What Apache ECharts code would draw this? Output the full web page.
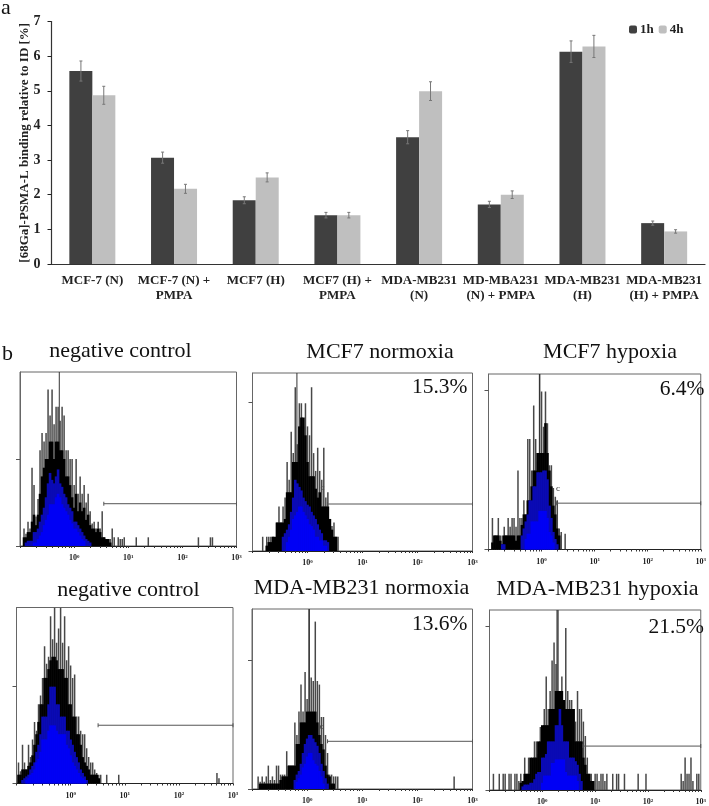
<!DOCTYPE html>
<html>
<head>
<meta charset="utf-8">
<style>html,body{margin:0;padding:0;background:#fff}#main{width:709px;height:806px}</style>
<script src="https://cdn.jsdelivr.net/npm/echarts@6/dist/echarts.min.js"></script>
</head>
<body>
<div id="main"></div>
<script>
// panel a: binding bars
var categories = ['MCF-7 (N)', 'MCF-7 (N) +\nPMPA', 'MCF7 (H)', 'MCF7 (H) +\nPMPA', 'MDA-MB231\n(N)', 'MD-MBA231\n(N) + PMPA', 'MDA-MB231\n(H)', 'MDA-MB231\n(H) + PMPA'];
var values1h = [5.57, 3.07, 1.84, 1.41, 3.66, 1.72, 6.13, 1.18];
var values4h = [4.87, 2.17, 2.50, 1.41, 4.99, 2.00, 6.28, 0.94];
var err1h = [0.29, 0.16, 0.10, 0.08, 0.19, 0.09, 0.31, 0.06];
var err4h = [0.26, 0.13, 0.13, 0.08, 0.27, 0.11, 0.32, 0.05];

// panel b: histogram heights per bin, in % of frame height (27 bins per decade, bin 0 = 10^-1)
var neg1Spike = [0,0,10,7,14,10,45,35,17,27,55,65,60,65,90,75,90,70,80,80,72,80,75,55,55,50,50,35,50,30,40,30,35,25,30,20,13,14,10,14,10,20,5,4,4,4,10,5,0,5,4,4,5];
var neg1Body = [0,0,5,5,8,8,14,18,12,18,30,40,45,50,50,60,60,50,60,60,55,55,50,40,40,35,28,22,30,20,25,20,22,15,18,12,10,10,8,10,8,5,5,4,4,2];
var neg1Blue = [0,0,0,2,3,3,3,8,8,10,14,18,22,28,36,42,38,36,40,44,36,34,30,28,24,22,20,14,14,12,10,8,6,4,3,2];
var neg1Core = [0,0,0,0,0,0,0,2,2,4,6,8,12,15,18,24,24,24,28,30,28,24,22,20,18,15,13,10,10,8,6,4,3];
var neg1Tail = [[58,5],[64,5],[89,5],[95,5],[96,5]];

var mcfNSpike = [0,0,0,0,0,8,0,8,8,8,8,6,16,25,16,25,30,50,40,67,55,92,60,83,83,70,83,70,65,92,55,45,58,45,40,58,30,33,15,14,16,8,8];
var mcfNBody = [0,0,0,0,0,0,0,3,5,5,8,8,16,16,16,16,18,33,33,33,50,50,50,70,75,75,65,50,42,42,42,35,30,33,25,25,25,25,18,12,8,8];
var mcfNBlue = [0,0,0,0,0,0,0,0,0,0,0,0,0,0,0,8,10,12,15,22,30,40,38,36,34,30,28,26,25,22,20,18,15,12,10,6,6,5];
var mcfNCore = [0,0,0,0,0,0,0,0,0,0,0,0,0,0,0,0,0,5,8,12,18,20,22,25,25,22,20,18,15,14,12,8,8,6,6,3,3];
var mcfNTail = [];

var mcfHSpike = [0,0,18,8,8,18,8,8,13,8,18,13,18,18,13,45,18,18,28,20,63,63,45,82,63,50,100,90,70,90,72,48,48,35,30,28,12,10,0,9];
var mcfHBody = [0,0,4,8,8,8,5,3,8,8,8,8,8,8,5,8,8,14,20,20,28,28,36,45,45,55,55,55,55,72,55,45,36,25,20,12,8];
var mcfHBlue = [0,0,0,0,0,0,0,3,3,0,0,0,0,0,0,0,0,8,12,16,20,28,28,36,36,44,44,44,45,45,40,25,18,10,6,3];
var mcfHCore = [0,0,0,0,0,0,0,0,0,0,0,0,0,0,0,0,0,0,0,6,9,9,16,16,16,16,22,22,22,22,18,10,8,4];
var mcfHTail = [];

var neg2Spike = [0,12,7,22,12,8,22,15,25,35,30,45,50,60,78,68,72,95,82,100,80,88,100,80,95,70,78,67,60,62,38,38,30,28,28,20,15,12,12,8,6,5,5];
var neg2Body = [0,5,5,8,8,8,10,12,16,22,28,35,45,45,60,60,65,70,72,72,70,65,65,65,60,60,45,45,38,38,28,28,22,15,12,10,8,5,5,5,5,3];
var neg2Blue = [0,0,0,2,3,4,5,8,10,12,18,22,28,38,38,38,45,55,55,55,45,45,38,38,38,30,30,25,22,18,15,12,8,6,4,2];
var neg2Core = [0,0,0,0,0,2,3,5,6,8,12,14,18,25,25,25,30,33,33,33,30,28,28,28,28,22,20,16,12,10,8,6,4,3,2];
var neg2Tail = [[45,5],[51,5],[100,6],[101,3]];

var mdaNSpike = [0,0,0,7,4,7,4,7,13,5,7,5,13,13,8,8,8,21,13,13,13,37,30,43,58,43,65,50,100,62,60,93,60,58,40,40,30,20,8,8,7,7,7];
var mdaNBody = [0,0,0,0,3,3,3,3,3,3,3,3,3,3,5,7,7,7,13,13,13,13,25,25,37,37,37,43,43,43,43,43,37,30,25,22,13,8,7,3,3];
var mdaNBlue = [0,0,0,0,0,0,0,0,0,0,0,0,0,0,0,0,0,0,0,0,0,5,8,10,14,20,25,28,30,30,28,26,24,20,14,10,6,3];
var mdaNCore = [0,0,0,0,0,0,0,0,0,0,0,0,0,0,0,0,0,0,0,0,0,0,4,6,8,12,14,18,20,20,16,14,13,10,7,3];
var mdaNTail = [[99,7]];

var mdaHSpike = [0,0,9,0,0,9,0,9,9,0,9,9,0,9,9,5,9,5,18,9,18,9,14,27,27,20,35,35,45,63,45,55,72,82,70,100,50,63,45,90,55,50,50,45,38,55,45,45,38,30,18,9,9,5,9,9,5,9,9,5,9];
var mdaHBody = [0,0,0,0,0,0,0,0,0,0,0,0,0,0,0,0,4,5,9,9,9,18,18,18,18,27,27,36,36,36,36,45,45,45,55,55,55,55,50,45,45,45,45,45,27,27,27,27,18,14,9,9,5,5];
var mdaHBlue = [0,0,0,0,0,0,0,0,0,0,0,0,0,0,0,0,0,2,3,3,3,4,4,6,9,10,10,18,18,20,27,27,27,27,36,36,45,36,27,27,27,18,18,18,16,14,9,5];
var mdaHCore = [0,0,0,0,0,0,0,0,0,0,0,0,0,0,0,0,0,0,0,0,0,0,0,0,0,0,0,4,8,8,8,8,15,15,17,17,17,17,17,10,8,8,8,8,8,5];
var mdaHTail = [[63,9],[65,9],[66,9],[69,9],[76,9],[80,9],[98,9],[99,5],[100,18],[101,9],[102,9],[103,18],[104,5],[106,9],[107,9]];

var panelTitles = ['negative control', 'MCF7 normoxia', 'MCF7 hypoxia', 'negative control', 'MDA-MB231 normoxia', 'MDA-MB231 hypoxia'];
var panelPercents = ['', '15.3%', '6.4%', '', '13.6%', '21.5%'];
var gateStart = [41.8, 36.8, 34.5, 40.7, 37, 47.8];
var gateHeight = [24.3, 26.4, 26.4, 33.1, 26.5, 24.4];
var markerBin = [19.6, 21.8, 26, null, 28, 34.5];
var yTick = [49.8, 83.6, 91, 55.5, 71.7, 91];

var panels = [
    {spike: neg1Spike, body: neg1Body, blue: neg1Blue, core: neg1Core, tail: neg1Tail},
    {spike: mcfNSpike, body: mcfNBody, blue: mcfNBlue, core: mcfNCore, tail: mcfNTail},
    {spike: mcfHSpike, body: mcfHBody, blue: mcfHBlue, core: mcfHCore, tail: mcfHTail},
    {spike: neg2Spike, body: neg2Body, blue: neg2Blue, core: neg2Core, tail: neg2Tail},
    {spike: mdaNSpike, body: mdaNBody, blue: mdaNBlue, core: mdaNCore, tail: mdaNTail},
    {spike: mdaHSpike, body: mdaHBody, blue: mdaHBlue, core: mdaHCore, tail: mdaHTail}
];

// frames of the six histograms, left/top/right/bottom in px
var frames = [
    [20, 372, 236.5, 546],
    [252.5, 373, 472.5, 551],
    [488.5, 374, 707.5, 549.5],
    [16.5, 607.5, 233, 783.5],
    [252, 609, 472.5, 789],
    [489.5, 610, 707.5, 790.5]
];
var titlePos = [[120.5, 351], [380, 352], [610, 352], [128.5, 590], [361.5, 588], [597.5, 589]];
var percentPos = [null, [467.5, 387], [704.5, 389], null, [467.5, 624], [704, 627]];
var smallMarks = [[322.5, 488], [558, 489], [321.5, 727]];

var SERIF = '"Liberation Serif","Times New Roman",serif';

function toPairs(arr) {
    return arr.map(function (v, i) { return [i, v]; });
}

var binsPerDecade = 27;
var histTicks = [];
for (var d = 0; d < 4; d++) {
    for (var k = 1; k < 10; k++) {
        histTicks.push(binsPerDecade * (d + Math.log10(k)));
    }
}
histTicks.push(108);

var grids = [{left: 51.5, right: 709 - 705, top: 21.5, height: 242.5}];
var xAxes = [{
    type: 'category', gridIndex: 0, data: categories,
    axisLine: {lineStyle: {color: '#333', width: 1.2}},
    axisTick: {length: 4, lineStyle: {color: '#222'}},
    axisLabel: {interval: 0, margin: 9, fontFamily: SERIF, fontWeight: 'bold', fontSize: 13, lineHeight: 15, color: '#222'}
}];
var yAxes = [{
    type: 'value', gridIndex: 0, min: 0, max: 7, interval: 1,
    name: '[68Ga]-PSMA-L binding relative to ID [%]', nameLocation: 'middle', nameGap: 20, nameMoveOverlap: false,
    nameTextStyle: {fontFamily: SERIF, fontWeight: 'bold', fontSize: 13, color: '#222'},
    axisLine: {show: true, lineStyle: {color: '#333', width: 1.2}},
    axisTick: {show: true, length: 4, lineStyle: {color: '#222'}},
    axisLabel: {margin: 11, fontFamily: SERIF, fontWeight: 'bold', fontSize: 14, color: '#222'},
    splitLine: {show: false}
}];

function errorBars(values, errs, side) {
    return {
        type: 'custom', xAxisIndex: 0, yAxisIndex: 0, z: 5, silent: true,
        data: values.map(function (v, i) { return [i, v, errs[i]]; }),
        renderItem: function (params, api) {
            var hw = api.size([1, 0])[0] * 0.14;
            var x = api.coord([api.value(0), 0])[0] + side * hw;
            var top = api.coord([0, api.value(1) + api.value(2)])[1];
            var bot = api.coord([0, api.value(1) - api.value(2)])[1];
            var st = {stroke: '#777', lineWidth: 1};
            return {type: 'group', children: [
                {type: 'line', shape: {x1: x, y1: top, x2: x, y2: bot}, style: st},
                {type: 'line', shape: {x1: x - 1.5, y1: top, x2: x + 1.5, y2: top}, style: st},
                {type: 'line', shape: {x1: x - 1.5, y1: bot, x2: x + 1.5, y2: bot}, style: st}
            ]};
        }
    };
}

var series = [
    {name: '1h', type: 'bar', xAxisIndex: 0, yAxisIndex: 0, data: values1h, barWidth: 23, barGap: 0, itemStyle: {color: '#404040'}},
    {name: '4h', type: 'bar', xAxisIndex: 0, yAxisIndex: 0, data: values4h, barWidth: 23, barGap: 0, itemStyle: {color: '#bfbfbf'}},
    errorBars(values1h, err1h, -1),
    errorBars(values4h, err4h, 1)
];

var texts = [
    {type: 'text', left: 1, top: -3, style: {text: 'a', font: '22px ' + SERIF, fill: '#111'}},
    {type: 'text', left: 2, top: 343, style: {text: 'b', font: '22px ' + SERIF, fill: '#111'}}
];

panels.forEach(function (p, i) {
    var f = frames[i], g = i + 1;
    grids.push({left: f[0], top: f[1], width: f[2] - f[0], height: f[3] - f[1], show: true, borderColor: '#666', borderWidth: 1});
    xAxes.push({
        type: 'value', gridIndex: g, min: 0, max: 108,
        axisLine: {lineStyle: {color: '#222'}},
        axisTick: {length: 2, customValues: histTicks, lineStyle: {color: '#333'}},
        minorTick: {show: false}, splitLine: {show: false},
        axisLabel: {
            customValues: [27, 54, 81, 108], margin: 8, showMinLabel: true, showMaxLabel: true,
            formatter: function (v) { return '{b|10}{s|' + (Math.round(v / 27) - 1) + '}'; },
            rich: {
                b: {fontFamily: SERIF, fontWeight: 'bold', fontSize: 8, color: '#222'},
                s: {fontFamily: SERIF, fontWeight: 'bold', fontSize: 5, color: '#222', verticalAlign: 'top'}
            }
        }
    });
    yAxes.push({
        type: 'value', gridIndex: g, min: 0, max: 100,
        axisLine: {show: true, lineStyle: {color: '#666'}},
        axisTick: {show: true, length: 4, customValues: [0, yTick[i]], lineStyle: {color: '#555'}},
        axisLabel: {show: false}, splitLine: {show: false}
    });

    var spikes = toPairs(p.spike).concat(p.tail);
    series.push({
        type: 'custom', xAxisIndex: g, yAxisIndex: g, z: 2, silent: true, clip: true, data: spikes,
        renderItem: function (params, api) {
            var a = api.coord([api.value(0), 0]), b = api.coord([api.value(0), api.value(1)]);
            return {type: 'line', shape: {x1: a[0], y1: a[1], x2: b[0], y2: b[1]}, style: {stroke: '#484848', lineWidth: 1.5}};
        }
    });
    [[p.body, '#000000', 3], [p.blue, '#0a0ab4', 4], [p.core, '#0000f5', 5]].forEach(function (l) {
        series.push({type: 'bar', xAxisIndex: g, yAxisIndex: g, data: toPairs(l[0]), barWidth: 2.6, barGap: '-100%', z: l[2], silent: true, itemStyle: {color: l[1]}});
    });
    series.push({
        type: 'line', xAxisIndex: g, yAxisIndex: g, z: 6, silent: true, data: [[gateStart[i], gateHeight[i]], [108, gateHeight[i]]],
        symbol: 'rect', symbolSize: [1, 4], lineStyle: {color: '#555', width: 1}, itemStyle: {color: '#555'}
    });
    if (markerBin[i] !== null) {
        series.push({
            type: 'line', xAxisIndex: g, yAxisIndex: g, z: 2, silent: true, data: [[markerBin[i], 0], [markerBin[i], 100]],
            symbol: 'none', lineStyle: {color: '#333', width: 1}
        });
    }

    texts.push({type: 'text', x: titlePos[i][0], y: titlePos[i][1], style: {text: panelTitles[i], font: '22px ' + SERIF, fill: '#111', align: 'center', verticalAlign: 'middle'}});
    if (panelPercents[i]) {
        texts.push({type: 'text', x: percentPos[i][0], y: percentPos[i][1], style: {text: panelPercents[i], font: '21.5px ' + SERIF, fill: '#111', align: 'right', verticalAlign: 'middle'}});
    }
});

smallMarks.forEach(function (m) {
    texts.push({type: 'text', x: m[0], y: m[1], style: {text: 'c', font: '9px ' + SERIF, fill: '#222', align: 'center', verticalAlign: 'middle'}});
});

var myChart = echarts.init(document.getElementById('main'), null, {renderer: 'canvas'});
myChart.setOption({
    animation: false,
    backgroundColor: '#fff',
    legend: {
        data: ['1h', '4h'], left: 624, top: 18, itemWidth: 8, itemHeight: 8, itemGap: 5,
        textStyle: {fontFamily: SERIF, fontWeight: 'bold', fontSize: 13, color: '#222', padding: [0, 0, 0, -2]}
    },
    grid: grids,
    xAxis: xAxes,
    yAxis: yAxes,
    series: series,
    graphic: texts
});
</script>
</body>
</html>
